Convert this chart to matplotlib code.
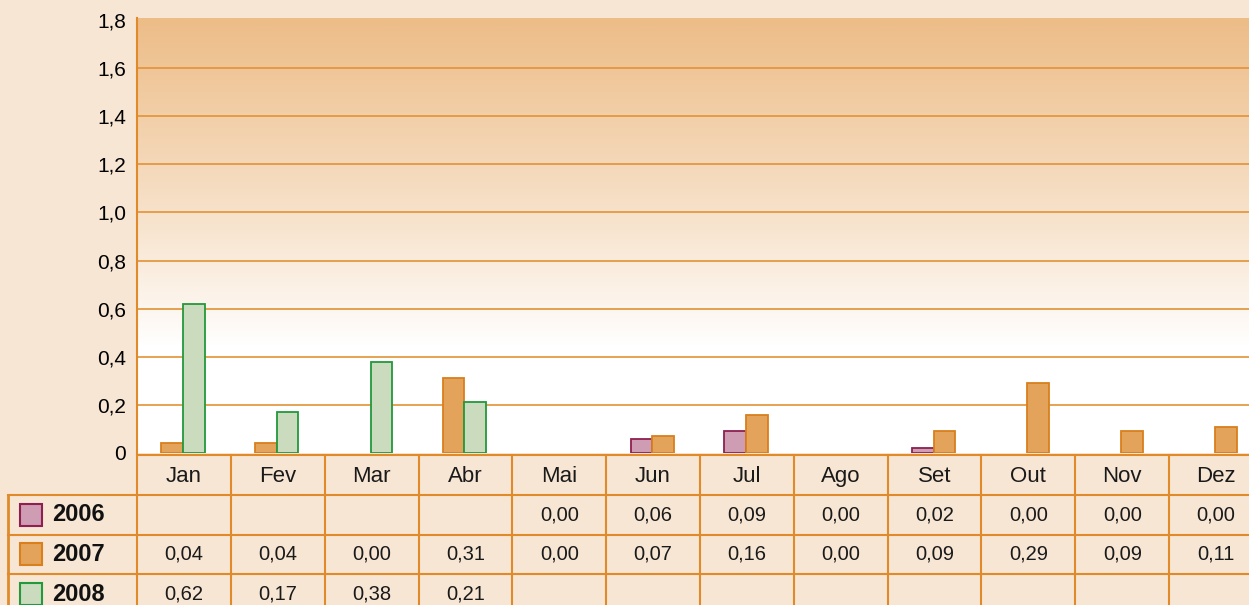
import numpy as np
import matplotlib
matplotlib.use("Agg")
import matplotlib.pyplot as plt
from matplotlib.patches import Rectangle
from matplotlib.colors import to_rgb

plt.rcParams['font.family'] = ['Liberation Sans', 'DejaVu Sans']

# data
months = ["Jan", "Fev", "Mar", "Abr", "Mai", "Jun", "Jul", "Ago", "Set", "Out", "Nov", "Dez"]
years = ["2006", "2007", "2008"]
v2006 = [None, None, None, None, 0.00, 0.06, 0.09, 0.00, 0.02, 0.00, 0.00, 0.00]
v2007 = [0.04, 0.04, 0.00, 0.31, 0.00, 0.07, 0.16, 0.00, 0.09, 0.29, 0.09, 0.11]
v2008 = [0.62, 0.17, 0.38, 0.21, None, None, None, None, None, None, None, None]
yticks = [0, 0.2, 0.4, 0.6, 0.8, 1.0, 1.2, 1.4, 1.6, 1.8]

series = [v2006, v2007, v2008]
fills = ["#cf9db3", "#e3a35a", "#cadcbd"]
edges = ["#8e1f50", "#d97f1c", "#22993c"]
grid_c = "#e29236"
bg = "#f7e6d4"

W, H = 1249, 605
fig = plt.figure(figsize=(W / 100, H / 100), dpi=100, facecolor=bg)

# pixel layout
x0, x1 = 137, 1263          # plot area left / right (last column cut by the figure edge)
y_top, y_zero = 18, 453
ax = fig.add_axes([x0 / W, (H - y_zero) / H, (x1 - x0) / W, (y_zero - y_top) / H])
ax.set_xlim(-0.5, 11.5)
ymax = 1.8 * (y_zero - y_top) / (y_zero - 20)
ax.set_ylim(0, ymax)

# gradient background of plot area
peach = np.array(to_rgb("#edbd88"))
white = np.ones(3)
yy = np.linspace(0, ymax, 300)
t = np.clip((yy - 0.45) / (1.8 - 0.45), 0, 1) ** 0.9
img = (white[None, :] * (1 - t[:, None]) + peach[None, :] * t[:, None])[:, None, :]
ax.imshow(img, extent=[-0.5, 11.5, 0, ymax], aspect='auto', origin='lower', zorder=0)

for yt in yticks[1:-1]:
    ax.axhline(yt, color=grid_c, lw=1.2, zorder=1)

# bars: present series per month are placed side by side
bw = 0.23
slot = [-0.125, 0.105]
for i in range(len(months)):
    present = [k for k in range(3) if series[k][i] is not None]
    for j, k in enumerate(present):
        v = series[k][i]
        if v > 0:
            ax.bar(i + slot[j], v, width=bw, color=fills[k], edgecolor=edges[k],
                   linewidth=1.3, zorder=3)

ax.set_yticks(yticks)
ax.set_yticklabels(["0" if v == 0 else ("%.1f" % v).replace(".", ",") for v in yticks],
                   fontsize=15)
ax.tick_params(axis='y', length=0, pad=8)
ax.set_xticks([])
for s in ["top", "right", "bottom"]:
    ax.spines[s].set_visible(False)
ax.spines["left"].set_color("#e08a2a")
ax.spines["left"].set_linewidth(1.5)

# data table
tl = 8
t_top, t_bot = 455, 614
tax = fig.add_axes([tl / W, (H - t_bot) / H, (x1 - tl) / W, (t_bot - t_top) / H])
unit = (x1 - x0) / 12.0
xl = -0.5 - (x0 - tl) / unit
tax.set_xlim(xl, 11.5)
tax.set_ylim(0, 4)
tax.axis("off")
tax.patch.set_alpha(0)

line_c = "#e08a2a"
for k in range(13):
    tax.plot([-0.5 + k, -0.5 + k], [0, 4], color=line_c, lw=1.5, clip_on=False)
tax.plot([xl, xl], [0, 3], color=line_c, lw=2, clip_on=False)
tax.plot([-0.5, 11.5], [4, 4], color=line_c, lw=1.5, clip_on=False)
for r in [1, 2, 3]:
    tax.plot([xl, 11.5], [r, r], color=line_c, lw=1.5, clip_on=False)

for i, m in enumerate(months):
    tax.text(i, 3.45, m, ha='center', va='center', fontsize=16, color="#1a1a1a")

sq_w = 22 / unit
sq_h = 22 / ((t_bot - t_top) / 4)
for k, yr in enumerate(years):
    yc = 2.5 - k
    tax.add_patch(Rectangle((xl + 12 / unit, yc - sq_h / 2), sq_w, sq_h,
                            facecolor=fills[k], edgecolor=edges[k], lw=1.5, clip_on=False))
    tax.text(xl + 44 / unit, yc, yr, ha='left', va='center', fontsize=17,
             fontweight='bold', color="#111111")
    for i in range(len(months)):
        v = series[k][i]
        if v is not None:
            tax.text(i, yc, ("%.2f" % v).replace(".", ","), ha='center', va='center',
                     fontsize=14.5, color="#1a1a1a")

fig.savefig("out.png", dpi=100, facecolor=bg)
